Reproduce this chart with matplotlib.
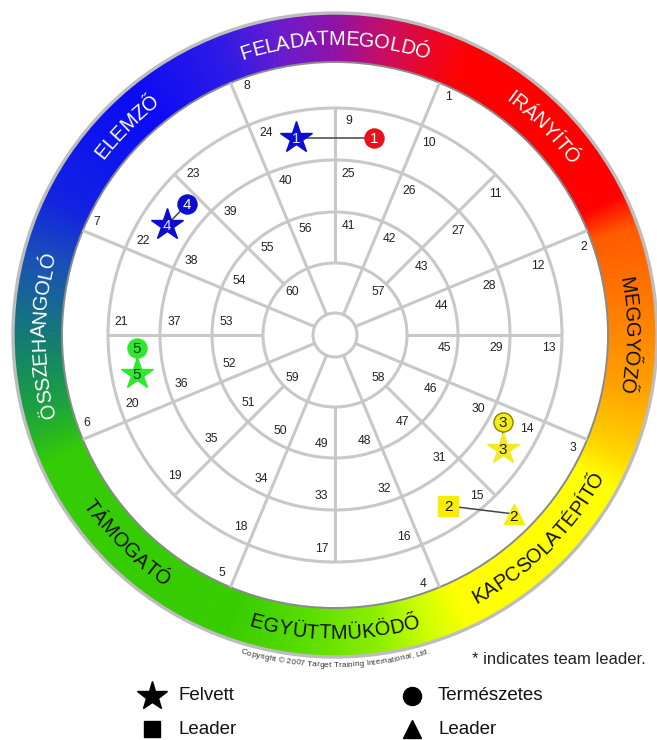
import numpy as np
import matplotlib
matplotlib.use("Agg")
import matplotlib.pyplot as plt
from matplotlib.patches import Wedge, Circle
from matplotlib.collections import PatchCollection
from matplotlib.font_manager import FontProperties
from matplotlib.textpath import TextToPath
from matplotlib import colors as mcolors

plt.rcParams['font.family'] = ['Liberation Sans', 'DejaVu Sans']

# ---- data ----
style_names = ['FELADATMEGOLDÓ', 'IRÁNYÍTÓ', 'MEGGYŐZŐ', 'KAPCSOLATÉPÍTŐ',
               'EGYÜTTMÜKÖDŐ', 'TÁMOGATÓ', 'ÖSSZEHANGOLÓ', 'ELEMZŐ']
style_angles = [0, 45, 90, 135, 180, 225, 270, 315]

outer_nums = list(range(1, 9))        # between the 8 main spokes
ring1_nums = list(range(9, 25))       # 16 cells each
ring2_nums = list(range(25, 41))
ring3_nums = list(range(41, 57))
inner_nums = list(range(57, 61))

# band colour stops (degrees clockwise from top)
band_stop_ang = [-40, -22, -10, 0, 10, 20, 26, 64, 70, 85, 100, 112, 119,
                 155, 162, 172, 185, 200, 246, 256, 270, 284, 296, 320]
band_stop_col = ['#0a0af5', '#2d1ae6', '#6a1ccc', '#9012a6', '#c80e62', '#f0041e',
                 '#ff0000', '#ff0000', '#ff5a00', '#ff7c00', '#ffa000', '#ffd200',
                 '#ffff00', '#ffff00', '#d2ff00', '#8cee00', '#5ade00', '#38cc00',
                 '#34cc06', '#1ca23e', '#137a76', '#1a52b4', '#1222e2', '#0a0af5']

# people: position on the wheel (angle clockwise from top, radius as fraction of grid)
people = ['1', '2', '3', '4', '5']
adapted_ang = [348.8, 146.5, 124.2, 303.2, 258.9]
adapted_rad = [0.885, 0.903, 0.894, 0.885, 0.889]
natural_ang = [11.2, 135.0, 117.4, 311.5, 266.2]
natural_rad = [0.885, 1.115, 0.833, 0.870, 0.874]
is_leader = [False, True, False, False, False]
adapted_col = ['#0c0cd2', '#f8ee00', '#f2ea28', '#0c0cd2', '#2ee82e']
natural_col = ['#e8101a', '#f8ee00', '#f4ee10', '#0c0cd2', '#2ee82e']
num_col_adapted = ['#d8d8ff', '#111111', '#222222', '#e0e0ff', '#1a3a1a']
num_col_natural = ['white', '#111111', '#222222', 'white', '#1a3a1a']

legend_labels = ['Felvett', 'Leader', 'Természetes', 'Leader']

# ---- geometry ----
cx, cy = 335, 335
ring_r = [22, 72, 123, 175, 227]
band_in, band_out = 273, 321
grid_col = '#c8c8c8'

fig = plt.figure(figsize=(6.57, 7.40), dpi=100)
ax = fig.add_axes([0, 0, 1, 1])
ax.set_xlim(0, 657)
ax.set_ylim(740, 0)
ax.axis('off')


def pt(theta, r):
    t = np.radians(theta)
    return cx + r * np.sin(t), cy - r * np.cos(t)


def band_color(theta):
    th = (theta + 40) % 360 - 40
    rgb = np.array([mcolors.to_rgb(c) for c in band_stop_col])
    return tuple(np.interp(th, band_stop_ang, rgb[:, k]) for k in range(3))


# coloured band
wedges, cols = [], []
step = 0.5
for a in np.arange(0, 360, step):
    wedges.append(Wedge((cx, cy), band_out, a - 90 - 0.05, a - 90 + step + 0.05,
                        width=band_out - band_in))
    cols.append(band_color(a + step / 2))
pc = PatchCollection(wedges, facecolors=cols, edgecolors=cols, linewidths=0.3, zorder=1)
ax.add_collection(pc)
ax.add_patch(Circle((cx, cy), band_out + 1, fill=False, ec='#bdbdbd', lw=2.4, zorder=2))
ax.add_patch(Circle((cx, cy), band_in, fill=False, ec='#8a8a8a', lw=1.4, zorder=2))

# grid circles
for r in ring_r:
    ax.add_patch(Circle((cx, cy), r, fill=False, ec=grid_col, lw=2.2, zorder=3))

# spokes
for k in range(8):
    a = 22.5 + 45 * k
    x0, y0 = pt(a, ring_r[0])
    x1, y1 = pt(a, band_in)
    ax.plot([x0, x1], [y0, y1], color=grid_col, lw=2.2, zorder=3, solid_capstyle='butt')
    a = 45 * k
    x0, y0 = pt(a, ring_r[1])
    x1, y1 = pt(a, ring_r[4])
    ax.plot([x0, x1], [y0, y1], color=grid_col, lw=2.2, zorder=3, solid_capstyle='butt')

# cell numbers
num_fs = 8.7


def put_nums(nums, base, stepa, r):
    off = np.degrees(13.5 / r)
    for i, n in enumerate(nums):
        x, y = pt(base + stepa * i + off, r)
        ax.text(x, y, str(n), fontsize=num_fs, color='#222222', ha='center',
                va='center', zorder=4)


put_nums(outer_nums, 22.5, 45, 264)
put_nums(ring1_nums, 0, 22.5, 214)
put_nums(ring2_nums, 0, 22.5, 161.5)
put_nums(ring3_nums, 0, 22.5, 110)
for i, n in enumerate(inner_nums):
    x, y = pt(45 + 90 * i, 61)
    ax.text(x, y, str(n), fontsize=num_fs, color='#222222', ha='center', va='center', zorder=4)

# curved text
ttp = TextToPath()


def char_w(ch, fp):
    w1 = ttp.get_text_width_height_descent('|' + ch + '|', fp, ismath=False)[0]
    w0 = ttp.get_text_width_height_descent('||', fp, ismath=False)[0]
    return (w1 - w0) * 100 / 72


def curved_text(s, theta_c, r, size, color, inward=False):
    fp = FontProperties(family='Liberation Sans', size=size)
    widths = [char_w(ch, fp) for ch in s]
    half_cap = 0.688 * size * 100 / 72 / 2
    rb = r + half_cap if inward else r - half_cap   # baseline radius
    total = np.degrees(sum(widths) / r)
    sgn = -1 if inward else 1
    start = theta_c - sgn * total / 2
    pos = 0
    for ch, w in zip(s, widths):
        th = start + sgn * np.degrees((pos + w / 2) / r)
        pos += w
        x, y = pt(th, rb)
        rot = 180 - th if inward else -th
        ax.text(x, y, ch, fontproperties=fp, color=color, rotation=rot,
                rotation_mode='anchor', ha='center', va='baseline', zorder=5)


for name, ang in zip(style_names, style_angles):
    inward = 100 < ang < 260
    tcol = '#111111' if 60 < ang < 240 else 'white'
    curved_text(name, ang, 297, 14.4, tcol, inward=inward)

curved_text('Copyright © 2007 Target Training International, Ltd.', 180, 329, 6.0,
            '#333333', inward=True)

# people markers
R = ring_r[4]
for i, p in enumerate(people):
    xa, ya = pt(adapted_ang[i], adapted_rad[i] * R)
    xn, yn = pt(natural_ang[i], natural_rad[i] * R)
    ax.plot([xa, xn], [ya, yn], color='#444444', lw=1.1, zorder=6)
    am = 's' if is_leader[i] else '*'
    nm = '^' if is_leader[i] else 'o'
    ams = 13.7 if is_leader[i] else 24
    nms = 14.4 if is_leader[i] else 13.7
    ax.plot(xa, ya, marker=am, ms=ams, color=adapted_col[i], mec=adapted_col[i], zorder=7)
    necol = '#8a8000' if p == '3' else natural_col[i]
    ax.plot(xn, yn, marker=nm, ms=nms, color=natural_col[i], mec=necol, mew=1, zorder=7)
    ax.text(xa, ya + 1, p, fontsize=11, color=num_col_adapted[i], ha='center', va='center', zorder=8)
    ax.text(xn, yn + (3 if is_leader[i] else 1), p, fontsize=11, color=num_col_natural[i],
            ha='center', va='center', zorder=8)

# footnote
ax.text(472, 660, '* indicates team leader.', fontsize=12, color='#222222', ha='left', va='center')

# legend
leg_x = [152, 152, 412, 412]
leg_y = [696, 729, 696, 729]
leg_m = ['*', 's', 'o', '^']
leg_ms = [22, 12, 13, 13]
for lab, x, y, m, s in zip(legend_labels, leg_x, leg_y, leg_m, leg_ms):
    ax.plot(x, y, marker=m, ms=s, color='black', mec='black')
    ax.text(x + 26, y, lab, fontsize=13.5, color='#111111', ha='left', va='center')

fig.savefig('out.png', dpi=100, facecolor='white')
